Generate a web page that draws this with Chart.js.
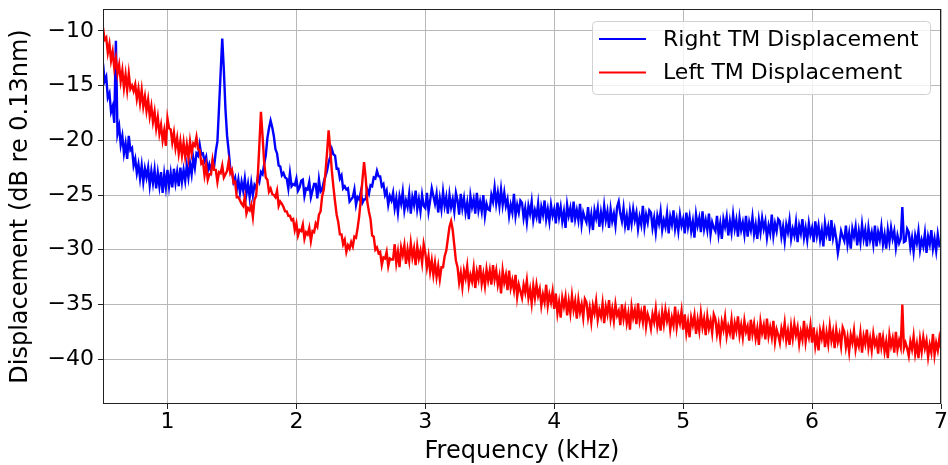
<!DOCTYPE html>
<html>
<head>
<meta charset="utf-8">
<script src="https://cdn.jsdelivr.net/npm/chart.js@4.4.0/dist/chart.umd.min.js"></script>
<style>
  html, body { margin: 0; padding: 0; background: #fff; }
</style>
</head>
<body>
<canvas id="tmChart" width="948" height="465"></canvas>
<script>
// frequency bins (kHz), one row = 0.25 kHz
const freqKHz = [
  0.5,0.5125,0.525,0.5375,0.55,0.5625,0.575,0.5875,0.6,0.6125,0.625,0.6375,0.65,0.6625,0.675,0.6875,0.7,0.7125,0.725,0.7375,
  0.75,0.7625,0.775,0.7875,0.8,0.8125,0.825,0.8375,0.85,0.8625,0.875,0.8875,0.9,0.9125,0.925,0.9375,0.95,0.9625,0.975,0.9875,
  1,1.0125,1.025,1.0375,1.05,1.0625,1.075,1.0875,1.1,1.1125,1.125,1.1375,1.15,1.1625,1.175,1.1875,1.2,1.2125,1.225,1.2375,
  1.25,1.2625,1.275,1.2875,1.3,1.3125,1.325,1.3375,1.35,1.3625,1.375,1.3875,1.4,1.4125,1.425,1.4375,1.45,1.4625,1.475,1.4875,
  1.5,1.5125,1.525,1.5375,1.55,1.5625,1.575,1.5875,1.6,1.6125,1.625,1.6375,1.65,1.6625,1.675,1.6875,1.7,1.7125,1.725,1.7375,
  1.75,1.7625,1.775,1.7875,1.8,1.8125,1.825,1.8375,1.85,1.8625,1.875,1.8875,1.9,1.9125,1.925,1.9375,1.95,1.9625,1.975,1.9875,
  2,2.0125,2.025,2.0375,2.05,2.0625,2.075,2.0875,2.1,2.1125,2.125,2.1375,2.15,2.1625,2.175,2.1875,2.2,2.2125,2.225,2.2375,
  2.25,2.2625,2.275,2.2875,2.3,2.3125,2.325,2.3375,2.35,2.3625,2.375,2.3875,2.4,2.4125,2.425,2.4375,2.45,2.4625,2.475,2.4875,
  2.5,2.5125,2.525,2.5375,2.55,2.5625,2.575,2.5875,2.6,2.6125,2.625,2.6375,2.65,2.6625,2.675,2.6875,2.7,2.7125,2.725,2.7375,
  2.75,2.7625,2.775,2.7875,2.8,2.8125,2.825,2.8375,2.85,2.8625,2.875,2.8875,2.9,2.9125,2.925,2.9375,2.95,2.9625,2.975,2.9875,
  3,3.0125,3.025,3.0375,3.05,3.0625,3.075,3.0875,3.1,3.1125,3.125,3.1375,3.15,3.1625,3.175,3.1875,3.2,3.2125,3.225,3.2375,
  3.25,3.2625,3.275,3.2875,3.3,3.3125,3.325,3.3375,3.35,3.3625,3.375,3.3875,3.4,3.4125,3.425,3.4375,3.45,3.4625,3.475,3.4875,
  3.5,3.5125,3.525,3.5375,3.55,3.5625,3.575,3.5875,3.6,3.6125,3.625,3.6375,3.65,3.6625,3.675,3.6875,3.7,3.7125,3.725,3.7375,
  3.75,3.7625,3.775,3.7875,3.8,3.8125,3.825,3.8375,3.85,3.8625,3.875,3.8875,3.9,3.9125,3.925,3.9375,3.95,3.9625,3.975,3.9875,
  4,4.0125,4.025,4.0375,4.05,4.0625,4.075,4.0875,4.1,4.1125,4.125,4.1375,4.15,4.1625,4.175,4.1875,4.2,4.2125,4.225,4.2375,
  4.25,4.2625,4.275,4.2875,4.3,4.3125,4.325,4.3375,4.35,4.3625,4.375,4.3875,4.4,4.4125,4.425,4.4375,4.45,4.4625,4.475,4.4875,
  4.5,4.5125,4.525,4.5375,4.55,4.5625,4.575,4.5875,4.6,4.6125,4.625,4.6375,4.65,4.6625,4.675,4.6875,4.7,4.7125,4.725,4.7375,
  4.75,4.7625,4.775,4.7875,4.8,4.8125,4.825,4.8375,4.85,4.8625,4.875,4.8875,4.9,4.9125,4.925,4.9375,4.95,4.9625,4.975,4.9875,
  5,5.0125,5.025,5.0375,5.05,5.0625,5.075,5.0875,5.1,5.1125,5.125,5.1375,5.15,5.1625,5.175,5.1875,5.2,5.2125,5.225,5.2375,
  5.25,5.2625,5.275,5.2875,5.3,5.3125,5.325,5.3375,5.35,5.3625,5.375,5.3875,5.4,5.4125,5.425,5.4375,5.45,5.4625,5.475,5.4875,
  5.5,5.5125,5.525,5.5375,5.55,5.5625,5.575,5.5875,5.6,5.6125,5.625,5.6375,5.65,5.6625,5.675,5.6875,5.7,5.7125,5.725,5.7375,
  5.75,5.7625,5.775,5.7875,5.8,5.8125,5.825,5.8375,5.85,5.8625,5.875,5.8875,5.9,5.9125,5.925,5.9375,5.95,5.9625,5.975,5.9875,
  6,6.0125,6.025,6.0375,6.05,6.0625,6.075,6.0875,6.1,6.1125,6.125,6.1375,6.15,6.1625,6.175,6.1875,6.2,6.2125,6.225,6.2375,
  6.25,6.2625,6.275,6.2875,6.3,6.3125,6.325,6.3375,6.35,6.3625,6.375,6.3875,6.4,6.4125,6.425,6.4375,6.45,6.4625,6.475,6.4875,
  6.5,6.5125,6.525,6.5375,6.55,6.5625,6.575,6.5875,6.6,6.6125,6.625,6.6375,6.65,6.6625,6.675,6.6875,6.7,6.7125,6.725,6.7375,
  6.75,6.7625,6.775,6.7875,6.8,6.8125,6.825,6.8375,6.85,6.8625,6.875,6.8875,6.9,6.9125,6.925,6.9375,6.95,6.9625,6.975,6.9875,
  7
];

// Right TM displacement (dB re 0.13nm)
const rightTM = [
  -13.0,-14.6,-14.2,-16.1,-15.7,-17.4,-16.9,-18.4,-10.9,-19.4,-18.7,-20.4,-19.6,-21.2,-20.3,-21.7,-19.6,-20.9,-20.7,-22.3,
  -21.7,-23.0,-22.2,-23.5,-22.3,-23.8,-22.6,-23.4,-22.5,-24.1,-22.8,-23.9,-22.7,-24.4,-23.0,-24.2,-22.9,-24.8,-23.1,-24.3,
  -22.7,-24.2,-23.0,-24.3,-22.6,-23.9,-22.9,-24.2,-22.5,-23.8,-22.7,-23.7,-22.3,-23.4,-22.1,-23.1,-21.6,-22.5,-21.2,-21.4,
  -20.4,-21.3,-21.2,-21.9,-21.5,-22.8,-22.2,-22.8,-21.9,-22.3,-21.0,-20.1,-17.0,-13.8,-10.7,-13.6,-17.2,-19.6,-21.0,-22.6,
  -22.8,-23.8,-23.4,-24.5,-23.6,-24.8,-23.8,-24.6,-23.5,-24.9,-24.0,-25.2,-23.9,-25.0,-24.1,-24.4,-23.4,-23.8,-22.9,-23.1,
  -22.2,-21.4,-19.8,-18.9,-18.2,-18.8,-19.6,-20.8,-21.2,-22.3,-22.4,-23.2,-23.0,-23.4,-23.5,-24.4,-23.0,-24.2,-24.0,-24.1,
  -23.5,-24.6,-24.3,-23.7,-23.6,-25.1,-24.4,-24.5,-23.8,-25.2,-24.6,-24.0,-24.0,-25.3,-23.6,-24.7,-24.5,-23.8,-23.3,-22.8,
  -22.0,-21.5,-20.8,-21.3,-21.4,-22.6,-22.6,-23.5,-23.2,-24.4,-24.2,-24.5,-24.4,-25.6,-25.4,-25.2,-24.5,-25.9,-25.2,-25.4,
  -24.7,-25.7,-25.4,-25.4,-24.5,-24.9,-24.1,-24.2,-23.4,-23.5,-22.8,-23.3,-23.3,-24.2,-24.0,-25.0,-24.6,-25.9,-25.1,-25.5,
  -24.8,-26.2,-25.3,-26.6,-25.1,-25.8,-24.7,-26.4,-25.5,-26.1,-24.9,-26.7,-25.2,-25.9,-24.6,-26.3,-25.4,-26.5,-25.0,-26.0,
  -26.2,-24.8,-26.5,-25.5,-24.4,-25.1,-25.8,-24.9,-26.6,-25.3,-26.3,-24.7,-26.0,-25.2,-26.7,-25.0,-26.1,-25.4,-26.5,-24.8,
  -25.5,-26.8,-24.9,-26.2,-25.3,-26.6,-25.7,-27.2,-25.1,-26.1,-25.4,-26.7,-24.8,-26.4,-25.6,-26.5,-25.0,-26.9,-25.8,-26.3,
  -26.4,-25.0,-25.6,-24.3,-25.8,-24.8,-26.0,-24.5,-25.9,-24.8,-26.0,-25.4,-26.9,-25.9,-26.6,-24.9,-26.9,-25.9,-26.6,-25.5,
  -25.7,-27.1,-26.2,-27.5,-26.0,-26.7,-25.6,-27.3,-26.4,-27.0,-25.8,-27.6,-26.1,-26.8,-25.5,-27.2,-26.3,-27.4,-25.9,-26.9,
  -26.3,-27.6,-25.7,-27.0,-26.1,-27.4,-26.5,-28.0,-25.9,-26.9,-26.2,-27.5,-25.6,-27.2,-26.4,-27.3,-25.8,-27.7,-26.6,-27.1,
  -27.5,-26.1,-27.8,-26.8,-28.2,-26.4,-27.1,-26.2,-27.9,-26.6,-27.6,-26.0,-27.3,-26.5,-28.0,-26.3,-27.4,-26.7,-27.8,-26.1,
  -25.6,-26.7,-27.4,-26.2,-27.8,-26.9,-28.2,-26.5,-27.6,-26.3,-27.3,-26.6,-28.1,-27.0,-27.7,-26.0,-27.9,-26.8,-27.5,-26.4,
  -26.6,-28.0,-27.1,-28.4,-26.9,-27.6,-26.5,-28.2,-27.3,-27.9,-26.7,-28.5,-27.0,-27.7,-26.4,-28.1,-27.2,-28.3,-26.8,-27.8,
  -27.2,-28.5,-26.6,-27.9,-27.0,-28.3,-27.4,-28.9,-26.8,-27.8,-27.1,-28.4,-26.5,-28.1,-27.3,-28.2,-26.7,-28.6,-27.5,-28.0,
  -28.3,-26.9,-28.6,-27.6,-29.0,-27.2,-27.9,-27.0,-28.7,-27.4,-28.4,-26.8,-28.1,-27.3,-28.8,-27.1,-28.2,-27.5,-28.6,-26.9,
  -28.8,-27.5,-28.2,-27.0,-28.6,-27.7,-29.0,-27.3,-28.4,-27.1,-28.1,-27.4,-28.9,-27.8,-28.5,-26.8,-28.7,-27.6,-28.3,-27.2,
  -27.4,-28.8,-27.9,-29.2,-27.7,-28.4,-27.3,-29.0,-28.1,-28.7,-27.5,-29.3,-27.8,-28.5,-27.2,-28.9,-28.0,-29.1,-27.6,-28.6,
  -28.0,-29.3,-27.4,-28.7,-27.8,-29.1,-28.2,-29.7,-27.6,-28.6,-27.9,-29.2,-27.3,-28.9,-28.1,-29.0,-30.3,-29.4,-28.3,-28.8,
  -29.2,-27.8,-29.5,-28.5,-29.9,-28.1,-28.8,-27.9,-29.6,-28.3,-29.3,-27.7,-29.0,-28.2,-29.7,-28.0,-29.1,-28.4,-29.5,-27.8,
  -29.7,-28.4,-29.1,-27.9,-29.5,-28.6,-29.9,-28.2,-29.3,-28.0,-29.0,-28.3,-29.8,-28.7,-29.4,-29.0,-26.1,-29.3,-29.2,-28.1,
  -28.4,-29.8,-28.9,-30.2,-28.7,-29.4,-28.3,-30.0,-29.1,-29.7,-28.5,-30.3,-28.8,-29.5,-28.2,-29.9,-29.0,-30.1,-28.6,-29.6,
  -29.4
];

// Left TM displacement (dB re 0.13nm)
const leftTM = [
  -9.7,-10.8,-10.6,-12.0,-11.2,-12.7,-11.9,-13.4,-12.5,-13.9,-13.1,-14.6,-13.6,-15.2,-14.0,-15.4,-13.9,-15.3,-15.0,-15.5,
  -14.9,-16.2,-15.3,-16.6,-15.4,-16.9,-16.0,-17.3,-16.3,-17.8,-16.9,-18.3,-17.4,-18.9,-17.9,-19.4,-18.6,-20.0,-19.1,-20.5,
  -18.0,-18.9,-19.0,-20.2,-19.3,-20.7,-19.8,-21.2,-20.1,-21.4,-20.2,-21.5,-20.4,-21.6,-20.1,-21.2,-20.3,-20.5,-19.7,-20.8,
  -20.9,-22.1,-21.9,-23.2,-22.3,-23.6,-23.1,-23.1,-21.8,-22.7,-22.7,-23.8,-22.9,-23.0,-22.3,-23.4,-23.1,-22.8,-21.9,-23.0,
  -22.7,-23.9,-23.8,-25.2,-25.2,-25.5,-25.8,-26.0,-25.2,-26.7,-26.2,-26.4,-25.9,-27.0,-25.4,-25.1,-23.4,-20.5,-17.4,-19.6,
  -22.0,-23.4,-23.6,-24.7,-24.4,-24.9,-25.0,-25.2,-24.6,-26.0,-25.6,-25.8,-26.1,-26.5,-26.5,-26.9,-26.9,-27.3,-27.2,-28.2,
  -27.6,-28.7,-28.2,-28.3,-27.7,-29.0,-28.4,-28.6,-28.0,-29.2,-28.3,-28.4,-27.6,-27.9,-26.8,-26.5,-25.1,-24.5,-23.0,-21.2,
  -19.1,-20.8,-22.8,-24.3,-25.6,-26.8,-27.5,-28.6,-28.6,-29.5,-29.1,-30.2,-29.6,-29.9,-29.3,-29.7,-28.8,-28.9,-28.0,-26.9,
  -25.4,-23.6,-22.0,-23.4,-25.6,-26.5,-27.2,-28.7,-28.8,-30.0,-29.8,-30.3,-30.2,-31.4,-30.7,-30.8,-30.2,-31.5,-30.8,-30.9,
  -30.9,-29.5,-31.2,-30.2,-31.6,-29.8,-30.5,-29.6,-31.3,-30.0,-31.0,-29.4,-30.7,-29.9,-31.4,-29.7,-30.8,-30.1,-31.2,-29.5,
  -30.3,-31.6,-30.6,-32.0,-31.0,-32.3,-31.2,-32.5,-31.5,-32.7,-31.6,-31.6,-30.6,-30.1,-29.0,-27.9,-27.4,-28.2,-29.6,-31.0,
  -31.6,-33.0,-32.1,-33.4,-31.9,-32.6,-31.5,-33.2,-32.3,-32.9,-31.7,-33.5,-32.0,-32.7,-31.4,-33.1,-32.2,-33.3,-31.8,-32.8,
  -31.9,-33.2,-31.4,-32.7,-31.9,-33.2,-32.4,-34.0,-31.9,-33.0,-32.3,-33.7,-31.9,-33.5,-32.8,-33.7,-32.3,-34.3,-33.2,-33.8,
  -34.4,-33.2,-33.9,-32.8,-34.4,-33.6,-34.9,-33.3,-34.4,-33.2,-34.2,-33.6,-35.1,-34.1,-34.8,-33.2,-35.1,-34.1,-34.8,-33.8,
  -35.4,-34.0,-35.8,-34.8,-36.2,-34.4,-35.2,-34.3,-36.0,-34.7,-35.8,-34.2,-35.5,-34.7,-36.3,-34.6,-35.7,-35.0,-36.2,-34.5,
  -34.8,-36.2,-35.3,-36.6,-35.1,-35.8,-34.7,-36.4,-35.5,-36.1,-34.9,-36.7,-35.2,-35.9,-34.6,-36.3,-35.4,-36.5,-35.0,-36.0,
  -35.6,-36.9,-35.0,-36.3,-35.4,-36.7,-35.8,-37.3,-35.2,-36.2,-35.5,-36.8,-34.9,-36.5,-35.7,-36.6,-35.1,-37.0,-35.9,-36.4,
  -37.2,-35.9,-36.6,-35.4,-37.0,-36.1,-37.4,-35.7,-36.8,-35.5,-36.5,-35.8,-37.3,-36.2,-36.9,-35.2,-37.1,-36.0,-36.7,-35.6,
  -37.3,-35.9,-37.6,-36.6,-38.0,-36.2,-36.9,-36.0,-37.7,-36.4,-37.4,-35.8,-37.1,-36.3,-37.8,-36.1,-37.2,-36.5,-37.6,-35.9,
  -36.3,-37.7,-36.8,-38.1,-36.6,-37.3,-36.2,-37.9,-37.0,-37.6,-36.4,-38.2,-36.7,-37.4,-36.1,-37.8,-36.9,-38.0,-36.5,-37.5,
  -37.0,-38.3,-36.4,-37.7,-36.8,-38.1,-37.2,-38.7,-36.6,-37.6,-36.9,-38.2,-36.3,-37.9,-37.1,-38.0,-36.5,-38.4,-37.3,-37.8,
  -38.5,-37.2,-37.9,-36.7,-38.3,-37.4,-38.7,-37.0,-38.1,-36.8,-37.8,-37.1,-38.6,-37.5,-38.2,-36.5,-38.4,-37.3,-38.0,-36.9,
  -38.5,-37.1,-38.8,-37.8,-39.2,-37.4,-38.1,-37.2,-38.9,-37.6,-38.6,-37.0,-38.3,-37.5,-39.0,-37.3,-38.4,-37.7,-38.8,-37.1,
  -37.5,-38.9,-38.0,-39.3,-37.8,-38.5,-37.4,-39.1,-38.2,-38.8,-37.6,-39.4,-37.9,-38.6,-37.3,-39.0,-38.1,-39.2,-37.7,-38.7,
  -38.2,-39.5,-37.6,-38.9,-38.0,-39.3,-38.4,-39.9,-37.8,-38.8,-38.1,-39.4,-37.5,-39.1,-38.3,-38.9,-35.0,-39.0,-38.5,-39.0,
  -39.7,-38.4,-39.1,-37.9,-39.5,-38.6,-39.9,-38.2,-39.3,-38.0,-39.0,-38.3,-39.8,-38.7,-39.4,-37.7,-39.6,-38.5,-39.2,-38.1,
  -39.0
];

const xTicks = [1, 2, 3, 4, 5, 6, 7];
const yTicks = [-40, -35, -30, -25, -20, -15, -10];

const FONT = "'DejaVu Sans', sans-serif";
const minusSign = v => String(v).replace('-', '\u2212');

// matplotlib style frame: all four spines
const framePlugin = {
  id: 'frame',
  afterDatasetsDraw(chart) {
    const { ctx, chartArea: a } = chart;
    ctx.save();
    ctx.strokeStyle = '#222';
    ctx.lineWidth = 1;
    ctx.strokeRect(Math.round(a.left) + 0.5, Math.round(a.top) + 0.5,
      Math.round(a.right - a.left) - 1, Math.round(a.bottom - a.top) - 1);
    ctx.restore();
  }
};

// legend box in the upper right corner of the plot
const boxLegend = {
  id: 'boxLegend',
  afterDraw(chart) {
    const { ctx, chartArea: a } = chart;
    const w = 338, h = 73;
    const x0 = a.right - 11 - w, y0 = a.top + 12;
    ctx.save();
    ctx.beginPath();
    ctx.roundRect(x0 + 0.5, y0 + 0.5, w, h, 4);
    ctx.fillStyle = 'rgba(255,255,255,0.8)';
    ctx.fill();
    ctx.strokeStyle = '#d0d0d0';
    ctx.lineWidth = 1;
    ctx.stroke();
    chart.data.datasets.forEach((ds, i) => {
      const y = y0 + 18 + i * 33.6;
      ctx.beginPath();
      ctx.moveTo(x0 + 7, y);
      ctx.lineTo(x0 + 54, y);
      ctx.strokeStyle = ds.borderColor;
      ctx.lineWidth = 2;
      ctx.stroke();
      ctx.fillStyle = '#000';
      ctx.font = '22px ' + FONT;
      ctx.textBaseline = 'middle';
      ctx.textAlign = 'left';
      ctx.fillText(ds.label, x0 + 71, y + 1);
    });
    ctx.restore();
  }
};

const ctx = document.getElementById('tmChart').getContext('2d');
const chart = new Chart(ctx, {
  type: 'line',
  data: {
    datasets: [{
      label: 'Right TM Displacement',
      data: freqKHz.map((f, i) => ({ x: f, y: rightTM[i] })),
      borderColor: '#0000ff',
      order: 1
    }, {
      label: 'Left TM Displacement',
      data: freqKHz.map((f, i) => ({ x: f, y: leftTM[i] })),
      borderColor: '#ff0000',
      order: 0
    }]
  },
  options: {
    responsive: false,
    animation: false,
    layout: { padding: { top: 9, right: 7, left: 0, bottom: 0 } },
    elements: {
      point: { radius: 0 },
      line: { borderWidth: 2.4, tension: 0, fill: false }
    },
    datasets: { line: { clip: 0 } },
    plugins: {
      legend: { display: false },
      tooltip: { enabled: false }
    },
    scales: {
      x: {
        type: 'linear',
        min: 0.5,
        max: 7,
        afterBuildTicks: s => { s.ticks = xTicks.map(v => ({ value: v })); },
        afterFit: s => { s.height = 61; s.paddingLeft = 0; s.paddingRight = 0; },
        grid: { color: '#b8b8b8', lineWidth: 1, tickLength: 5, tickColor: '#222' },
        border: { display: false },
        ticks: {
          font: { family: FONT, size: 22 },
          color: '#000',
          padding: 0,
          maxRotation: 0,
          callback: v => minusSign(v)
        },
        title: {
          display: true,
          text: 'Frequency (kHz)',
          color: '#000',
          font: { family: FONT, size: 24, lineHeight: 1.1 },
          padding: { top: 0, bottom: 0 }
        }
      },
      y: {
        min: -44.1,
        max: -8.0,
        afterBuildTicks: s => { s.ticks = yTicks.map(v => ({ value: v })); },
        afterFit: s => { s.width = 103; s.paddingTop = 0; s.paddingBottom = 0; },
        grid: { color: '#b8b8b8', lineWidth: 1, tickLength: 5, tickColor: '#222' },
        border: { display: false },
        ticks: {
          font: { family: FONT, size: 22 },
          color: '#000',
          padding: 4,
          callback: v => minusSign(v)
        },
        title: {
          display: true,
          text: 'Displacement (dB re 0.13nm)',
          color: '#000',
          font: { family: FONT, size: 24 },
          padding: { top: 6, bottom: 0 }
        }
      }
    }
  },
  plugins: [framePlugin, boxLegend]
});
</script>
</body>
</html>
